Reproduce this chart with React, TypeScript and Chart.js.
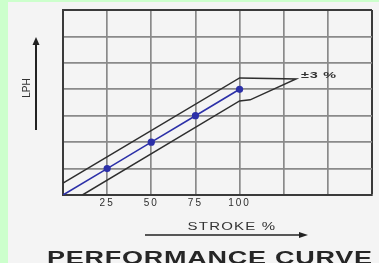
import React, { useEffect, useRef } from "react";
import { Chart, registerables } from "chart.js";

Chart.register(...registerables);

// ---- data ----
const strokeValues = [0, 25, 50, 75, 100];
const lphValues = [0, 1, 2, 3, 4];
const upperBandX = [0, 100, 132];
const upperBandY = [0.45, 4.43, 4.39];
const lowerBandX = [132, 106, 100, 11];
const lowerBandY = [4.39, 3.6, 3.56, 0];
const xTickLabels = [25, 50, 75, 100];
const toleranceLabel = "±3 %";
const xTitle = "STROKE %";
const yTitle = "LPH";
const chartTitle = "PERFORMANCE CURVE";

const FONT = "'Liberation Sans', Arial, sans-serif";

function stretchedText(
  ctx: CanvasRenderingContext2D,
  text: string,
  x: number,
  y: number,
  k: number,
  align: CanvasTextAlign,
  font: string,
  color: string,
  spacing = 0
) {
  ctx.save();
  (ctx as any).letterSpacing = spacing + "px";
  ctx.font = font;
  ctx.fillStyle = color;
  ctx.textAlign = align;
  ctx.textBaseline = "alphabetic";
  ctx.scale(k, 1);
  ctx.fillText(text, x / k, y);
  ctx.restore();
}

const decorPlugin = {
  id: "decor",
  beforeDraw(chart: any) {
    const ctx = chart.ctx as CanvasRenderingContext2D;
    ctx.save();
    ctx.fillStyle = "#ccffcc";
    ctx.fillRect(0, 0, chart.width, chart.height);
    ctx.fillStyle = "#f4f4f4";
    ctx.fillRect(8, 2, chart.width - 8, chart.height - 2);
    ctx.restore();
    (ctx as any).letterSpacing = "2px";
  },
  afterDraw(chart: any) {
    const ctx = chart.ctx as CanvasRenderingContext2D;
    (ctx as any).letterSpacing = "0px";
    ctx.save();
    ctx.strokeStyle = "#222";
    ctx.fillStyle = "#222";
    ctx.lineWidth = 2;
    // vertical arrow
    ctx.beginPath();
    ctx.moveTo(36, 130);
    ctx.lineTo(36, 43);
    ctx.stroke();
    ctx.beginPath();
    ctx.moveTo(36, 37);
    ctx.lineTo(32.5, 45);
    ctx.lineTo(39.5, 45);
    ctx.closePath();
    ctx.fill();
    // horizontal arrow
    ctx.lineWidth = 1.5;
    ctx.beginPath();
    ctx.moveTo(145, 235);
    ctx.lineTo(301, 235);
    ctx.stroke();
    ctx.beginPath();
    ctx.moveTo(308, 235);
    ctx.lineTo(299, 232);
    ctx.lineTo(299, 238);
    ctx.closePath();
    ctx.fill();
    ctx.restore();

    // LPH rotated
    ctx.save();
    ctx.translate(30, 88);
    ctx.rotate(-Math.PI / 2);
    ctx.scale(1, 1.15);
    ctx.font = "10px " + FONT;
    ctx.fillStyle = "#333";
    ctx.textAlign = "center";
    ctx.textBaseline = "alphabetic";
    ctx.fillText(yTitle, 0, 0);
    ctx.restore();

    stretchedText(ctx, xTitle, 232, 229.5, 1.5, "center", "10px " + FONT, "#333", 0.8);
    stretchedText(ctx, toleranceLabel, 301, 78, 1.6, "left", "bold 9px " + FONT, "#333", 0.5);
    stretchedText(ctx, chartTitle, 47, 263.5, 1.5, "left", "bold 18px " + FONT, "#262626", 0.5);
  },
};

export default function App() {
  const ref = useRef<HTMLCanvasElement | null>(null);
  useEffect(() => {
    if (!ref.current) return;
    const mainLine = strokeValues.map((x, i) => ({ x, y: lphValues[i] }));
    const band = [
      ...upperBandX.map((x, i) => ({ x, y: upperBandY[i] })),
      ...lowerBandX.map((x, i) => ({ x, y: lowerBandY[i] })),
    ];
    const gridColor = (last: number) => (c: any) =>
      c.tick && c.tick.value === last ? "#3a3a3a" : "#8a8a8a";
    const gridWidth = (last: number) => (c: any) =>
      c.tick && c.tick.value === last ? 2 : 1.7;
    const chart = new Chart(ref.current, {
      type: "line",
      data: {
        datasets: [
          {
            data: mainLine,
            borderColor: "#2c30a8",
            backgroundColor: "#2c30a8",
            borderWidth: 1.6,
            pointRadius: strokeValues.map((v) => (v === 0 ? 0 : 3.6)),
            pointBorderWidth: 0,
            fill: false,
            tension: 0,
          },
          {
            data: band,
            borderColor: "#2e2e2e",
            borderWidth: 1.5,
            pointRadius: 0,
            fill: false,
            tension: 0,
          },
        ],
      },
      plugins: [decorPlugin],
      options: {
        animation: false,
        responsive: false,
        devicePixelRatio: 1,
        layout: { padding: { left: 8, top: 10, right: 7, bottom: 0 } },
        plugins: { legend: { display: false }, tooltip: { enabled: false } },
        scales: {
          x: {
            type: "linear",
            min: 0,
            max: 175,
            border: { display: true, color: "#3a3a3a", width: 2 },
            grid: { color: gridColor(175), lineWidth: gridWidth(175), drawTicks: false },
            ticks: {
              stepSize: 25,
              autoSkip: false,
              maxRotation: 0,
              padding: 2,
              color: "#2e2e2e",
              font: { family: FONT, size: 10 },
              callback: (v: any) => (xTickLabels.includes(Number(v)) ? String(v) : ""),
            },
            afterFit: (s: any) => {
              s.height = 68;
            },
          },
          y: {
            type: "linear",
            min: 0,
            max: 7,
            border: { display: true, color: "#3a3a3a", width: 2 },
            grid: { color: gridColor(7), lineWidth: gridWidth(7), drawTicks: false },
            ticks: { stepSize: 1, display: false },
            afterFit: (s: any) => {
              s.width = 55;
            },
          },
        },
      },
    } as any);
    return () => chart.destroy();
  }, []);
  return (
    <div style={{ position: "absolute", left: 0, top: 0, width: 379, height: 263 }}>
      <canvas ref={ref} width={379} height={263} />
    </div>
  );
}
